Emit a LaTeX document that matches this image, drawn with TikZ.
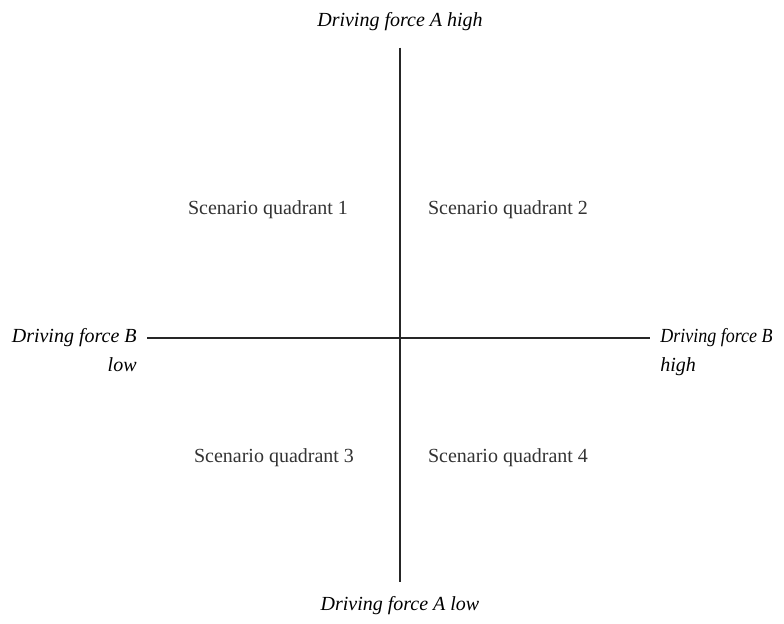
\documentclass[tikz,border=0pt]{standalone}
\usepackage{fontspec}
\setmainfont{Liberation Serif}
\newfontfamily\narrowserif[FakeStretch=0.9]{Liberation Serif}
\usepackage{tikz}
\usetikzlibrary{positioning}

\begin{document}
\begin{tikzpicture}[x=0.5pt,y=-0.5pt,
  axis/.style={draw=black!85,line width=0.6pt},
  pole/.style={font=\itshape\fontsize{10}{12}\selectfont,inner sep=1pt},
  quad/.style={font=\fontsize{10}{12}\selectfont,text=black!80}]
  \useasboundingbox (0,0) rectangle (784,623);
  % the two driving forces at the ends of the axes
  \node[pole] (ahigh) at (400,22) {Driving force A high};
  \node[pole] (alow) at (400,606) {Driving force A low};
  \node[pole,anchor=east] (blow) at (139,338) {Driving force B};
  \node[pole,anchor=north east] (blowtxt) at ([yshift=-3pt]blow.south east) {low};
  \node[pole,anchor=west,font=\narrowserif\itshape\fontsize{10}{12}\selectfont] (bhigh) at (658,338) {Driving force B};
  \node[pole,anchor=north west] (bhightxt) at ([yshift=-3pt]bhigh.south west) {high};
  %坐标轴: 竖线连接 A 的两端, 横线连接 B 的两端
  \draw[axis] ([yshift=-7pt]ahigh.south) -- ([yshift=6pt]alow.north);
  \draw[axis] ([xshift=4pt]blow.east) -- ([xshift=-4pt]bhigh.west);
  \foreach \n/\x/\y in {1/268/210, 2/508/210, 3/274/458, 4/508/458}
  \node[quad] (q\n) at (\x,\y) {Scenario quadrant \n};
\end{tikzpicture}
\end{document}
